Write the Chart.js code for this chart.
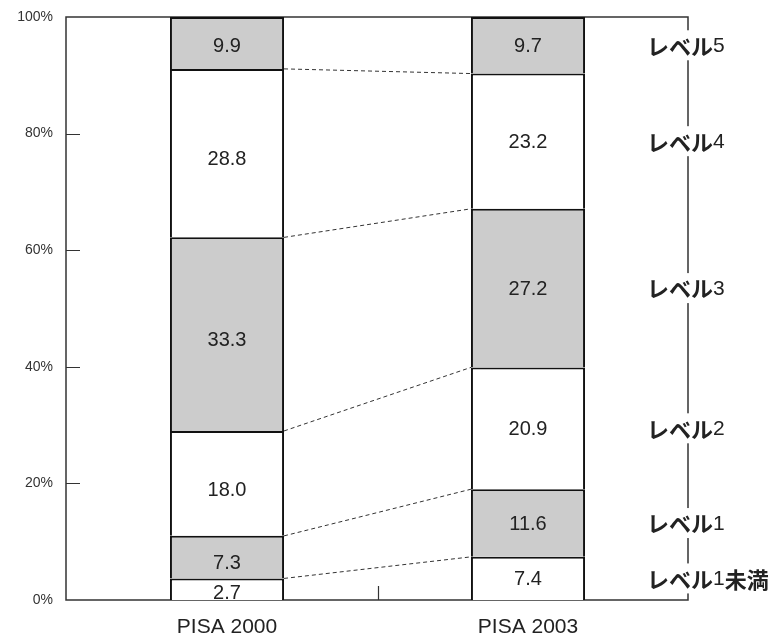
<!DOCTYPE html>
<html>
<head>
<meta charset="utf-8">
<script src="https://cdn.jsdelivr.net/npm/chart.js@4"></script>
<style>
  body { margin: 0; background: #fff; }
  canvas { display: block; }
</style>
</head>
<body>
<canvas id="pisaChart" width="772" height="639"></canvas>
<script>
const surveys = ["PISA 2000", "PISA 2003"];
const levels = ["レベル1未満", "レベル1", "レベル2", "レベル3", "レベル4", "レベル5"];

// segment heights as drawn, bottom to top
const heights2000 = [3.7, 7.3, 18.0, 33.2, 28.9, 8.9];
const heights2003 = [7.4, 11.6, 20.9, 27.2, 23.2, 9.7];

// numbers printed inside the segments (their text sits at the middle of these values)
const printed2000 = [2.7, 7.3, 18.0, 33.3, 28.8, 9.9];
const printed2003 = [7.4, 11.6, 20.9, 27.2, 23.2, 9.7];

const yTicks = [0, 20, 40, 60, 80, 100];

const segmentColors = ["#ffffff", "#cccccc", "#ffffff", "#cccccc", "#ffffff", "#cccccc"];

window.onload = function() {
  const ctx = document.getElementById("pisaChart").getContext("2d");

  // frame sits a bit outside the chart area so the bars end up where the original has them
  const frameOutLeft = 10.5;
  const frameOutRight = 9.5;

  const framePlugin = {
    id: "frame",
    beforeDatasetsDraw(chart) {
      const c = chart.ctx;
      const ca = chart.chartArea;
      const y = chart.scales.y;
      const x = chart.scales.x;
      const left = ca.left - frameOutLeft;
      const right = ca.right + frameOutRight;
      c.save();
      c.strokeStyle = "#333";
      c.lineWidth = 1.5;
      c.beginPath();
      c.moveTo(left, ca.top);
      c.lineTo(right, ca.top);
      c.lineTo(right, ca.bottom);
      c.lineTo(left, ca.bottom);
      c.closePath();
      c.stroke();
      // inward ticks
      c.lineWidth = 1.2;
      c.beginPath();
      yTicks.slice(1, -1).forEach(v => {
        const py = Math.round(y.getPixelForValue(v)) + 0.5;
        c.moveTo(left, py);
        c.lineTo(left + 14, py);
      });
      const mx = Math.round(x.getPixelForValue(0.5)) + 0.5;
      c.moveTo(mx, ca.bottom);
      c.lineTo(mx, ca.bottom - 14);
      c.stroke();
      c.restore();
    },
    afterDatasetsDraw(chart) {
      const c = chart.ctx;
      const ca = chart.chartArea;
      const y = chart.scales.y;
      const n = levels.length;
      c.save();

      // dashed connectors between segment boundaries
      c.strokeStyle = "#333";
      c.lineWidth = 1;
      c.setLineDash([4, 3]);
      for (let i = 0; i < n - 1; i++) {
        const a = chart.getDatasetMeta(i).data[0];
        const b = chart.getDatasetMeta(i).data[1];
        c.beginPath();
        c.moveTo(a.x + a.width / 2, a.y);
        c.lineTo(b.x - b.width / 2, b.y);
        c.stroke();
      }
      c.setLineDash([]);

      // numbers inside segments
      c.fillStyle = "#222";
      c.font = "20px 'Liberation Sans', Arial, sans-serif";
      c.textAlign = "center";
      c.textBaseline = "middle";
      [printed2000, printed2003].forEach((vals, j) => {
        let base = 0;
        vals.forEach((v, i) => {
          const el = chart.getDatasetMeta(i).data[j];
          const py = y.getPixelForValue(base + v / 2);
          c.fillText(v.toFixed(1), el.x, py + 1);
          base += v;
        });
      });

      // level names on the right, aligned with the 2003 segments
      const labelX = ca.right + frameOutRight - 41;
      const boldFont = "bold 22px 'Noto Sans CJK JP', sans-serif";
      const plainFont = "21px 'Liberation Sans', Arial, sans-serif";
      c.textAlign = "left";
      for (let i = 0; i < n; i++) {
        const el = chart.getDatasetMeta(i).data[1];
        const my = (el.y + el.base) / 2;
        const parts = levels[i].match(/\d+|\D+/g);
        let w = 0;
        parts.forEach(p => {
          c.font = /\d/.test(p) ? plainFont : boldFont;
          w += c.measureText(p).width;
        });
        c.fillStyle = "#fff";
        c.fillRect(labelX - 3, my - 15, w + 6, 30);
        c.fillStyle = "#222";
        let px = labelX;
        parts.forEach(p => {
          c.font = /\d/.test(p) ? plainFont : boldFont;
          c.fillText(p, px, my + 1);
          px += c.measureText(p).width;
        });
      }
      c.restore();
    }
  };

  const datasets = levels.map((name, i) => ({
    label: name,
    data: [heights2000[i], heights2003[i]],
    backgroundColor: segmentColors[i],
    borderColor: "#111",
    borderWidth: 2,
    borderSkipped: "bottom",
    barPercentage: 0.379,
    categoryPercentage: 1.0
  }));

  new Chart(ctx, {
    type: "bar",
    data: { labels: surveys, datasets: datasets },
    options: {
      responsive: false,
      animation: false,
      layout: { padding: { top: 17, right: 93.5, left: 0, bottom: 0 } },
      plugins: {
        legend: { display: false },
        tooltip: { enabled: false }
      },
      scales: {
        x: {
          stacked: true,
          grid: { display: false, drawTicks: false },
          border: { display: false },
          ticks: {
            color: "#222",
            padding: 15,
            font: { family: "'Liberation Sans', Arial, sans-serif", size: 21 }
          },
          afterFit: scale => { scale.height = 39; }
        },
        y: {
          stacked: true,
          min: 0,
          max: 100,
          grid: { display: false, drawTicks: false },
          border: { display: false },
          afterBuildTicks: scale => { scale.ticks = yTicks.map(v => ({ value: v })); },
          ticks: {
            color: "#333",
            padding: 23.5,
            font: { family: "'Liberation Sans', Arial, sans-serif", size: 14 },
            callback: v => v + "%"
          },
          afterFit: scale => {
            scale.width = 76.5;
            scale.paddingTop = 0;
            scale.paddingBottom = 0;
          }
        }
      }
    },
    plugins: [framePlugin]
  });
};
</script>
</body>
</html>
